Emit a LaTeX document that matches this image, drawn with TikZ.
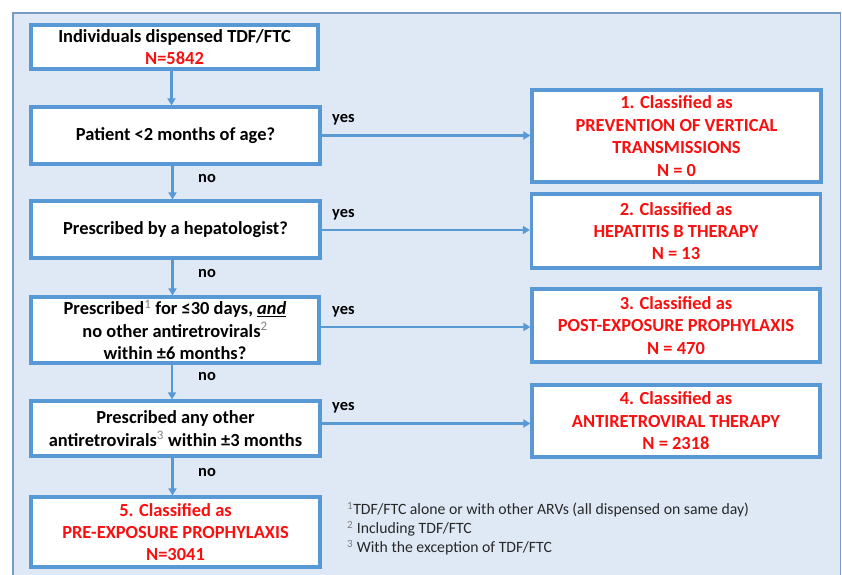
\documentclass[tikz,border=0pt]{standalone}
\usepackage{fontspec}
\setmainfont{Carlito}
\usetikzlibrary{arrows.meta}
\definecolor{panelfill}{RGB}{222,233,245}
\definecolor{paneldraw}{RGB}{120,155,195}
\definecolor{boxblue}{RGB}{88,152,212}
\definecolor{redtxt}{RGB}{250,15,15}
\definecolor{notetxt}{RGB}{40,40,40}
\tikzset{
  flowbox/.style={draw=boxblue, line width=3.2bp, fill=white, inner sep=0pt, align=center,
    font=\bfseries\fontsize{18.5}{22.5}\selectfont},
  outbox/.style={flowbox, text=redtxt},
  flowarrow/.style={draw=boxblue, line width=2.4bp, -{Triangle[length=7bp,width=8bp]}},
  lab/.style={font=\bfseries\fontsize{16.5}{19}\selectfont, inner sep=0pt},
  note/.style={font=\fontsize{15.8}{19}\selectfont, text=notetxt, inner sep=0pt, anchor=west},
}
\newcommand{\sups}[1]{\textsuperscript{\mdseries\color{gray}#1}}
\begin{document}
\begin{tikzpicture}[x=1bp,y=-1bp]
\clip (0,0) rectangle (842,575);
\fill[white] (0,0) rectangle (842,575);
\draw[fill=panelfill, draw=paneldraw, line width=1.8bp] (13,13) rectangle (840.5,590);

\node[flowbox, minimum width=287bp, minimum height=44bp] (A) at (174.5,47)
  {Individuals dispensed TDF/FTC\\ \textcolor{redtxt}{N=5842}};
\node[flowbox, minimum width=289bp, minimum height=57bp] (B) at (175.5,135.5)
  {Patient <2 months of age?};
\node[flowbox, minimum width=289bp, minimum height=57bp] (C) at (175.5,229.5)
  {Prescribed by a hepatologist?};
\node[flowbox, minimum width=288bp, minimum height=66bp] (D) at (175,330)
  {Prescribed\sups{1} for ≤30 days, \underline{\textit{and}}\\ no other antiretrovirals\sups{2}\\ within ±6 months?};
\node[flowbox, minimum width=289bp, minimum height=55bp] (E) at (175.5,428.5)
  {Prescribed any other\\ antiretrovirals\sups{3} within ±3 months};
\node[outbox, minimum width=289bp, minimum height=70bp] (F) at (175.5,532)
  {5. Classified as\\ PRE-EXPOSURE PROPHYLAXIS\\ N=3041};

\node[outbox, minimum width=289bp, minimum height=92bp] (R1) at (676.5,136)
  {1. Classified as\\ PREVENTION OF VERTICAL\\ TRANSMISSIONS\\ N = 0};
\node[outbox, minimum width=289bp, minimum height=74bp] (R2) at (676,231)
  {2. Classified as\\ HEPATITIS B THERAPY\\ N = 13};
\node[outbox, minimum width=288bp, minimum height=73bp] (R3) at (676,325.5)
  {3. Classified as\\ POST-EXPOSURE PROPHYLAXIS\\ N = 470};
\node[outbox, minimum width=288bp, minimum height=72bp] (R4) at (676,421)
  {4. Classified as\\ ANTIRETROVIRAL THERAPY\\ N = 2318};

\draw[flowarrow] ([xshift=-3bp]A.south) -- ([xshift=-3bp]A.south |- B.north);
\draw[flowarrow] ([xshift=-3bp]B.south) -- ([xshift=-3bp]B.south |- C.north);
\draw[flowarrow] ([xshift=-3bp]C.south) -- ([xshift=-3bp]C.south |- D.north);
\draw[flowarrow] ([xshift=-3bp]D.south) -- ([xshift=-3bp]D.south |- E.north);
\draw[flowarrow] ([xshift=-3bp]E.south) -- ([xshift=-3bp]E.south |- F.north);

\draw[flowarrow] (B.east) -- (B.east -| R1.west);
\draw[flowarrow] ([yshift=-0.5bp]C.east) -- ([yshift=-0.5bp]C.east -| R2.west);
\draw[flowarrow] ([yshift=3bp]D.east) -- ([yshift=3bp]D.east -| R3.west);
\draw[flowarrow] ([yshift=5bp]E.east) -- ([yshift=5bp]E.east -| R4.west);

\node[lab, anchor=west] (y1) at (332,120) {yes};
\node[lab, anchor=west] (y2) at (332,215) {yes};
\node[lab, anchor=west] (y3) at (332,312) {yes};
\node[lab, anchor=west] (y4) at (332,408) {yes};
\node[lab] (n1) at (207,179) {no};
\node[lab] (n2) at (207,274) {no};
\node[lab] (n3) at (207,377) {no};
\node[lab] (n4) at (207,473) {no};

\node[note] (f1) at (347,510) {\sups{1}TDF/FTC alone or with other ARVs (all dispensed on same day)};
\node[note] (f2) at (347,529) {\sups{2} Including TDF/FTC};
\node[note] (f3) at (347,548) {\sups{3} With the exception of TDF/FTC};
\end{tikzpicture}
\end{document}
